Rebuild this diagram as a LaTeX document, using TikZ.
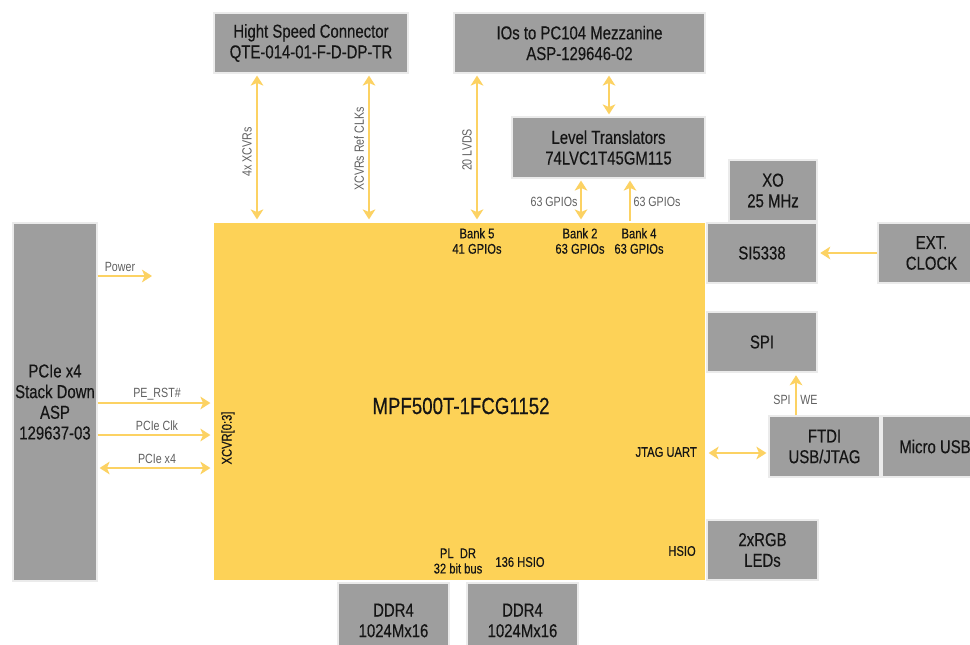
\documentclass[tikz,border=0pt]{standalone}
\usepackage{fontspec}
\setmainfont{Liberation Sans}[FakeStretch=0.8]
\newfontfamily\boxf{Liberation Sans}[FakeStretch=0.8, FakeBold=0.35]
\usetikzlibrary{arrows.meta}
\definecolor{fpgay}{HTML}{FDD257}
\definecolor{arry}{HTML}{FCD263}
\definecolor{boxg}{HTML}{9E9E9E}
\definecolor{txtd}{HTML}{151515}
\definecolor{lblg}{HTML}{606060}
\tikzset{
  box/.style={rectangle, fill=boxg, draw=black!8, line width=0.9pt, inner sep=0pt, align=center,
    text=txtd, font=\boxf\fontsize{14}{15.5}\selectfont},
  lbl/.style={inner sep=0pt, text=lblg, font=\fontsize{10}{11}\selectfont},
  inl/.style={inner sep=0pt, align=center, text=txtd, font=\boxf\fontsize{10.5}{11.5}\selectfont},
  arr/.style={draw=arry, line width=1.6pt, -{Stealth[length=7.5pt,width=9.5pt,inset=2pt]}},
  arrd/.style={draw=arry, line width=1.6pt, {Stealth[length=7.5pt,width=9.5pt,inset=2pt]}-{Stealth[length=7.5pt,width=9.5pt,inset=2pt]}},
}
\newcommand\blk[7][box]{\node[#1, minimum width={(#5-#3)*0.75pt}, minimum height={(#6-#4)*0.75pt}] (#2) at ({(#3+#5)/2},{(#4+#6)/2}) {#7};}
\begin{document}
\begin{tikzpicture}[x=0.75pt,y=-0.75pt]
\clip (0,0) rectangle (970,645);
\fill[white] (0,0) rectangle (970,645);
% blocks
\blk[box, fill=fpgay, draw=white]{fpga}{213}{222}{706}{581}{}
\node[inner sep=0pt, text=txtd, font=\boxf\fontsize{17.5}{19}\selectfont] (fpgat) at (461,406) {MPF500T-1FCG1152};
\blk{pcie}{13}{223}{97}{581}{PCIe x4\\Stack Down\\ASP\\129637-03}
\blk{hsc}{214}{13}{408}{73}{Hight Speed Connector\\QTE-014-01-F-D-DP-TR}
\blk{io}{454}{13}{705}{73}{IOs to PC104 Mezzanine\\ASP-129646-02}
\blk{lt}{512}{117}{705}{178}{Level Translators\\74LVC1T45GM115}
\blk{xo}{729}{160}{817}{221}{XO\\25 MHz}
\blk{si}{707}{223}{817}{283}{SI5338}
\blk{ext}{878}{223}{985}{283}{EXT.\\CLOCK}
\blk{spi}{707}{312}{817}{372}{SPI}
\blk{ftdi}{769}{416}{880}{477}{FTDI\\USB/JTAG}
\blk{usb}{882}{416}{988}{477}{Micro USB}
\blk{rgb}{707}{520}{818}{580}{2xRGB\\LEDs}
\blk{ddra}{338}{583}{449}{658}{DDR4\\1024Mx16}
\blk{ddrb}{467}{583}{578}{658}{DDR4\\1024Mx16}
% labels inside FPGA
\node[inl] (b5) at (477,241) {Bank 5\\41 GPIOs};
\node[inl] (b2) at (580,241) {Bank 2\\63 GPIOs};
\node[inl] (b4) at (639,241) {Bank 4\\63 GPIOs};
\node[inl] (pldr) at (458,561) {PL\ \ DR\\32 bit bus};
\node[inl] (hsio136) at (520,562) {136 HSIO};
\node[inl, anchor=east] (jtag) at (697,452) {JTAG UART};
\node[inl, anchor=east] (hsio) at (696,551) {HSIO};
\node[inl, rotate=90] (xcvr) at (228,438) {XCVR[0:3]};
% connectors top
\draw[arrd, shorten <=1.5pt, shorten >=1.5pt] (hsc.south -| 257,0) -- (fpga.north -| 257,0);
\draw[arrd, shorten <=1.5pt, shorten >=1.5pt] (hsc.south -| 369,0) -- (fpga.north -| 369,0);
\draw[arrd, shorten <=1.5pt, shorten >=1.5pt] (io.south -| 477,0) -- (fpga.north -| 477,0);
\draw[arrd, shorten <=1.5pt, shorten >=1.5pt] (io.south -| 609,0) -- (lt.north -| 609,0);
\draw[arrd, shorten <=1.5pt, shorten >=1.5pt] (lt.south -| 581,0) -- (fpga.north -| 581,0);
\draw[arr, shorten >=1.5pt] (fpga.north -| 630,0) -- (lt.south -| 630,0);
\node[lbl, rotate=90] (l4x) at (247,152) {4x XCVRs};
\node[lbl, rotate=90] (lref) at (359,149) {XCVRs Ref CLKs};
\node[lbl, rotate=90] (llvds) at (467,150) {20 LVDS};
\node[lbl] (lg1) at (554,202) {63 GPIOs};
\node[lbl] (lg2) at (657,202) {63 GPIOs};
% connectors left
\coordinate (pwrend) at (152,276);
\draw[arr] (pcie.east |- 0,276) -- (pwrend);
\draw[arr, shorten >=1.5pt] (pcie.east |- 0,403) -- (fpga.west |- 0,403);
\draw[arr, shorten >=1.5pt] (pcie.east |- 0,435) -- (fpga.west |- 0,435);
\draw[arrd, shorten <=1.5pt, shorten >=1.5pt] (pcie.east |- 0,468) -- (fpga.west |- 0,468);
\node[lbl] (lpwr) at (120,267) {Power};
\node[lbl] (lrst) at (157,394) {PE\_RST\#};
\node[lbl] (lclk) at (157,426) {PCIe Clk};
\node[lbl] (lx4) at (157,459) {PCIe x4};
% connectors right
\draw[arr, shorten >=2pt] (ext.west) -- (si.east);
\draw[arr, shorten >=2pt] (ftdi.north -| 796,0) -- (spi.south -| 796,0);
\node[lbl] (lspi) at (782,400) {SPI};
\node[lbl] (lwe) at (809,400) {WE};
\draw[arrd, shorten <=1.5pt, shorten >=1.5pt] (fpga.east |- 0,453) -- (ftdi.west |- 0,453);
\end{tikzpicture}
\end{document}
